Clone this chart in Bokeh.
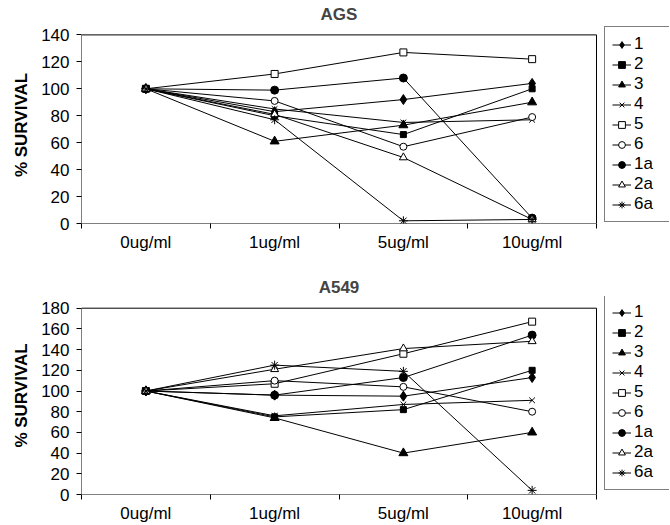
from bokeh.plotting import figure
from bokeh.models import Legend, LegendItem, FixedTicker, Range1d, BoxAnnotation
from bokeh.layouts import column
from bokeh.embed import file_html
from bokeh.resources import INLINE

# ---------------- data ----------------
doses = ["0ug/ml", "1ug/ml", "5ug/ml", "10ug/ml"]
series_names = ["1", "2", "3", "4", "5", "6", "1a", "2a", "6a"]

# AGS (% survival)
ags_1 = [100, 83, 92, 104]
ags_2 = [100, 80, 66, 100]
ags_3 = [100, 61, 73, 90]
ags_4 = [100, 85, 75, 77]
ags_5 = [100, 111, 127, 122]
ags_6 = [100, 91, 57, 79]
ags_1a = [100, 99, 108, 4]
ags_2a = [100, 81, 49, 3]
ags_6a = [100, 77, 2, 3]

# A549 (% survival)
a549_1 = [100, 96, 95, 113]
a549_2 = [100, 75, 82, 120]
a549_3 = [100, 74, 40, 60]
a549_4 = [100, 76, 87, 91]
a549_5 = [100, 107, 136, 167]
a549_6 = [100, 110, 104, 80]
a549_1a = [100, 96, 113, 154]
a549_2a = [100, 121, 141, 148]
a549_6a = [100, 125, 119, 4]

ags_ticks = [0, 20, 40, 60, 80, 100, 120, 140]
a549_ticks = [0, 20, 40, 60, 80, 100, 120, 140, 160, 180]

ags_series = [ags_1, ags_2, ags_3, ags_4, ags_5, ags_6, ags_1a, ags_2a, ags_6a]
a549_series = [a549_1, a549_2, a549_3, a549_4, a549_5, a549_6, a549_1a, a549_2a, a549_6a]

# marker styles (marker, size, fill)
styles = [
    ("diamond", 10, "black"),
    ("square", 6, "black"),
    ("triangle", 9, "black"),
    ("x", 8, None),
    ("square", 7, "white"),
    ("circle", 7, "white"),
    ("circle", 8, "black"),
    ("triangle", 8, "white"),
    ("asterisk", 9, None),
]

FONT = "Liberation Sans"
TITLE_PX = 17
W = 670
LEFT = 81
RIGHT = 1
PLOT_W = 515   # width of the boxed plot area in px

# approximate bold advance widths (em) used to centre the titles over the box
BOLD_EM = {"A": 0.722, "G": 0.778, "S": 0.667, "5": 0.556, "4": 0.556, "9": 0.556}


def marker_kw(mk, sz, fill):
    kw = dict(marker=mk, size=sz, line_color="black", line_width=1)
    if fill is None:
        kw["fill_alpha"] = 0
    else:
        kw["fill_color"] = fill
    return kw


def make_chart(title, series, ticks, height, b_top, b_bottom, plot_h, title_standoff, leg_y):
    n = len(doses)
    xs = [i + 0.5 for i in range(n)]
    frame_w = W - LEFT - RIGHT
    frame_h = height - b_top - b_bottom
    xmax = n * frame_w / PLOT_W
    ymax = ticks[-1] * frame_h / plot_h
    p = figure(width=W, height=height, output_backend="svg", toolbar_location=None,
               x_range=Range1d(0, xmax), y_range=Range1d(ticks[0], ymax),
               min_border_left=LEFT, min_border_right=RIGHT, min_border_top=b_top,
               min_border_bottom=b_bottom)
    p.xgrid.visible = False
    p.ygrid.visible = False
    p.outline_line_color = None
    p.background_fill_color = "white"
    p.border_fill_color = "white"

    tw = sum(BOLD_EM.get(c, 0.6) for c in title) * TITLE_PX
    p.title.text = title
    p.title.align = "left"
    p.title.offset = PLOT_W / 2 - tw / 2
    p.title.text_font = FONT
    p.title.text_font_size = f"{TITLE_PX}px"
    p.title.text_font_style = "bold"
    p.title.standoff = title_standoff

    # plot box
    p.add_layout(BoxAnnotation(left=0, right=n, bottom=ticks[0], top=ticks[-1],
                               fill_alpha=0, line_color="black", line_alpha=1,
                               line_width=1))

    # x axis: labels at category centres, tick marks at boundaries
    xa = p.xaxis[0]
    xa.ticker = FixedTicker(ticks=xs, minor_ticks=list(range(n + 1)))
    xa.major_label_overrides = {x: d for x, d in zip(xs, doses)}
    xa.major_tick_out = 0
    xa.major_tick_in = 0
    xa.minor_tick_out = 5
    xa.minor_tick_in = 0
    xa.minor_tick_line_color = "black"
    xa.axis_line_color = None
    xa.major_label_text_font = FONT
    xa.major_label_text_font_size = "17px"
    xa.major_label_text_color = "black"
    xa.major_label_standoff = 4

    ya = p.yaxis[0]
    ya.ticker = FixedTicker(ticks=ticks, minor_ticks=[])
    ya.major_tick_out = 5
    ya.major_tick_in = 0
    ya.major_tick_line_color = "black"
    ya.axis_line_color = None
    ya.major_label_text_font = FONT
    ya.major_label_text_font_size = "17px"
    ya.major_label_text_color = "black"
    ya.major_label_standoff = 7
    ya.axis_label = "% SURVIVAL"
    ya.axis_label_text_font = FONT
    ya.axis_label_text_font_size = "17px"
    ya.axis_label_text_font_style = "bold"
    ya.axis_label_text_color = "black"
    ya.axis_label_standoff = 7

    items = []
    for name, ys, st in zip(series_names, series, styles):
        lr = p.line(xs, ys, line_color="black", line_width=1)
        sr = p.scatter(xs, ys, **marker_kw(*st))
        items.append(LegendItem(label=name, renderers=[lr, sr]))

    leg = Legend(items=items, location=(PLOT_W + 8, leg_y))
    leg.margin = 0
    leg.border_line_color = "black"
    leg.border_line_width = 1
    leg.background_fill_color = "white"
    leg.background_fill_alpha = 1
    leg.label_text_font = FONT
    leg.label_text_font_size = "17px"
    leg.label_text_color = "black"
    leg.glyph_width = 19
    leg.glyph_height = 17
    leg.label_height = 17
    leg.label_standoff = 3
    leg.label_width = 28
    leg.padding = 7
    leg.spacing = 0
    p.add_layout(leg)
    return p


p1 = make_chart("AGS", ags_series, ags_ticks, 262, 26, 39, 188.6, 5, 1)
p2 = make_chart("A549", a549_series, a549_ticks, 263, 34, 31, 186.3, 0, 4)

layout = column(p1, p2)
open("out.html", "w").write(file_html(layout, INLINE))
